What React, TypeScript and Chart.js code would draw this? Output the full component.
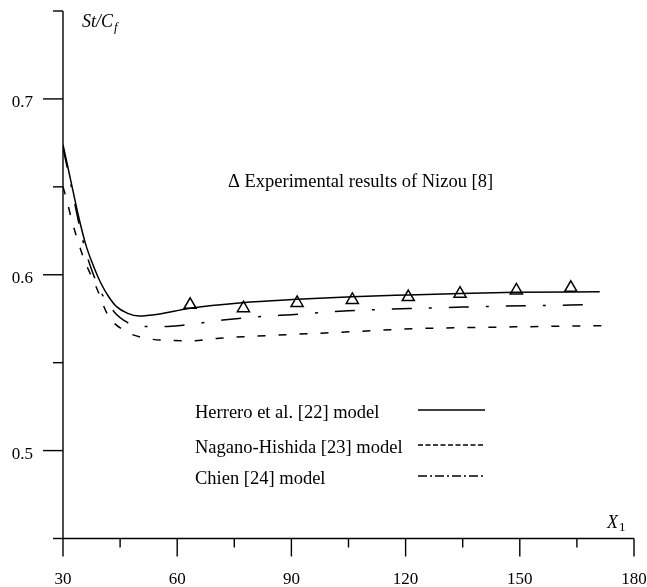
import React, { useEffect, useRef } from "react";
import { Chart, registerables } from "chart.js";

Chart.register(...registerables);

// ---- data ----
const herreroX = [30, 32, 34, 36, 38, 40, 42, 44, 47, 50, 55, 63, 77, 91.5, 106, 120, 134.5, 149, 171];
const herreroY = [0.674, 0.654, 0.634, 0.617, 0.605, 0.595, 0.5875, 0.582, 0.578, 0.5765, 0.5775, 0.5808, 0.5841, 0.586, 0.5875, 0.5885, 0.5894, 0.59, 0.5903];

const naganoX = [30, 31, 32.3, 35.3, 38.7, 41.8, 45.8, 50.3, 57, 64, 71, 90.6, 106, 122, 144, 173.5];
const naganoY = [0.65, 0.6424, 0.631, 0.6102, 0.5932, 0.5771, 0.5686, 0.5646, 0.5627, 0.5625, 0.5639, 0.5661, 0.5676, 0.5693, 0.5702, 0.5711];

const chienX = [30, 32, 34, 36, 38, 40, 42, 44, 46, 48, 51, 56, 61, 72, 82, 90, 105, 121, 137, 152, 170.5];
const chienY = [0.672, 0.652, 0.631, 0.613, 0.6, 0.59, 0.583, 0.5775, 0.574, 0.5718, 0.5705, 0.5705, 0.5712, 0.5742, 0.5762, 0.5773, 0.5795, 0.5808, 0.5817, 0.5824, 0.583];

const expX = [63.4, 77.4, 91.5, 106, 120.7, 134.3, 149.1, 163.4];
const expY = [0.5829, 0.581, 0.584, 0.5857, 0.5873, 0.5892, 0.5911, 0.5926];

const xMajorTicks = [30, 60, 90, 120, 150, 180];
const xMinorTicks = [45, 75, 105, 135, 165];
const yMajorTicks = [0.5, 0.6, 0.7];
const yMinorTicks = [0.45, 0.55, 0.65, 0.75];

const legendLabels = ["Herrero et al. [22] model", "Nagano-Hishida [23] model", "Chien [24] model"];
const annotationText = "\u0394 Experimental results of Nizou [8]";

const toPts = (xs: number[], ys: number[]) => xs.map((x, i) => ({ x, y: ys[i] }));

const SERIF = '"Liberation Serif", "Times New Roman", serif';

const axesPlugin = {
  id: "customAxes",
  afterDraw(chart: any) {
    const { ctx, scales } = chart;
    const xs = scales.x;
    const ys = scales.y;
    const x0 = xs.getPixelForValue(30);
    const x1 = xs.getPixelForValue(180);
    const yb = ys.getPixelForValue(0.45);
    const yt = ys.getPixelForValue(0.75);
    const line = (ax: number, ay: number, bx: number, by: number) => {
      ctx.beginPath();
      ctx.moveTo(ax, ay);
      ctx.lineTo(bx, by);
      ctx.stroke();
    };
    ctx.save();
    ctx.strokeStyle = "#000";
    ctx.fillStyle = "#000";
    ctx.lineWidth = 1.4;
    ctx.setLineDash([]);
    // axes
    line(x0, yt, x0, yb);
    line(x0, yb, x1, yb);
    // y ticks
    ctx.font = `17px ${SERIF}`;
    ctx.textAlign = "right";
    ctx.textBaseline = "alphabetic";
    yMajorTicks.forEach((v) => {
      const py = ys.getPixelForValue(v);
      line(x0 - 20, py, x0, py);
      ctx.fillText(v.toFixed(1), x0 - 30, py + 8.5);
    });
    yMinorTicks.forEach((v) => {
      const py = ys.getPixelForValue(v);
      line(x0 - 10, py, x0, py);
    });
    // x ticks
    ctx.textAlign = "center";
    xMajorTicks.forEach((v) => {
      const px = xs.getPixelForValue(v);
      line(px, yb, px, yb + 18);
      ctx.fillText(String(v), px, yb + 45);
    });
    xMinorTicks.forEach((v) => {
      const px = xs.getPixelForValue(v);
      line(px, yb, px, yb + 9);
    });
    // axis titles
    ctx.textAlign = "left";
    ctx.font = `italic 18px ${SERIF}`;
    ctx.fillText("St/C", x0 + 19, yt + 16);
    const w1 = ctx.measureText("St/C").width;
    ctx.font = `italic 13px ${SERIF}`;
    ctx.fillText("f", x0 + 19 + w1 + 1, yt + 20);
    ctx.font = `italic 18px ${SERIF}`;
    ctx.fillText("X", x1 - 27, yb - 11);
    const wx = ctx.measureText("X").width;
    ctx.font = `13px ${SERIF}`;
    ctx.fillText("1", x1 - 27 + wx + 1, yb - 8);
    // annotation
    ctx.font = `18.5px ${SERIF}`;
    ctx.fillText(annotationText, 228, 187);
    // legend
    const rows = [413, 448, 479];
    const dashes = [[], [5, 2.5], [9, 3, 2, 3]];
    rows.forEach((cy, i) => {
      ctx.setLineDash([]);
      ctx.font = `18.5px ${SERIF}`;
      ctx.textBaseline = "middle";
      ctx.fillText(legendLabels[i], 195, cy);
      ctx.lineWidth = 1.4;
      ctx.setLineDash(dashes[i]);
      line(418, cy - 3, 485, cy - 3);
    });
    ctx.restore();
  },
};

export default function App() {
  const ref = useRef<HTMLCanvasElement | null>(null);
  useEffect(() => {
    document.body.style.margin = "0";
    document.body.style.overflow = "hidden";
    if (!ref.current) return;
    const lineDs = (label: string, xs: number[], ys: number[], dash: number[]) => ({
      label,
      data: toPts(xs, ys),
      showLine: true,
      borderColor: "#000",
      borderWidth: 1.5,
      borderDash: dash,
      pointRadius: 0,
      tension: 0.4,
      cubicInterpolationMode: "monotone" as const,
      fill: false,
    });
    const chart = new Chart(ref.current, {
      type: "scatter",
      data: {
        datasets: [
          lineDs(legendLabels[0], herreroX, herreroY, []),
          lineDs(legendLabels[1], naganoX, naganoY, [8, 13]),
          lineDs(legendLabels[2], chienX, chienY, [20, 17, 3, 17]),
          {
            label: "Experimental",
            data: toPts(expX, expY),
            showLine: false,
            pointStyle: "triangle",
            pointRadius: 7,
            borderColor: "#000",
            borderWidth: 1.5,
            backgroundColor: "rgba(0,0,0,0)",
          } as any,
        ],
      },
      options: {
        animation: false,
        responsive: false,
        devicePixelRatio: 1,
        layout: { padding: { left: 63, right: 13, top: 11, bottom: 48.5 } },
        plugins: { legend: { display: false }, tooltip: { enabled: false } },
        scales: {
          x: { type: "linear", min: 30, max: 180, display: false },
          y: { type: "linear", min: 0.45, max: 0.75, display: false },
        },
      },
      plugins: [axesPlugin],
    });
    return () => chart.destroy();
  }, []);
  return (
    <div style={{ width: 647, height: 587, background: "#fff" }}>
      <canvas ref={ref} width={647} height={587} style={{ width: 647, height: 587, display: "block" }} />
    </div>
  );
}
